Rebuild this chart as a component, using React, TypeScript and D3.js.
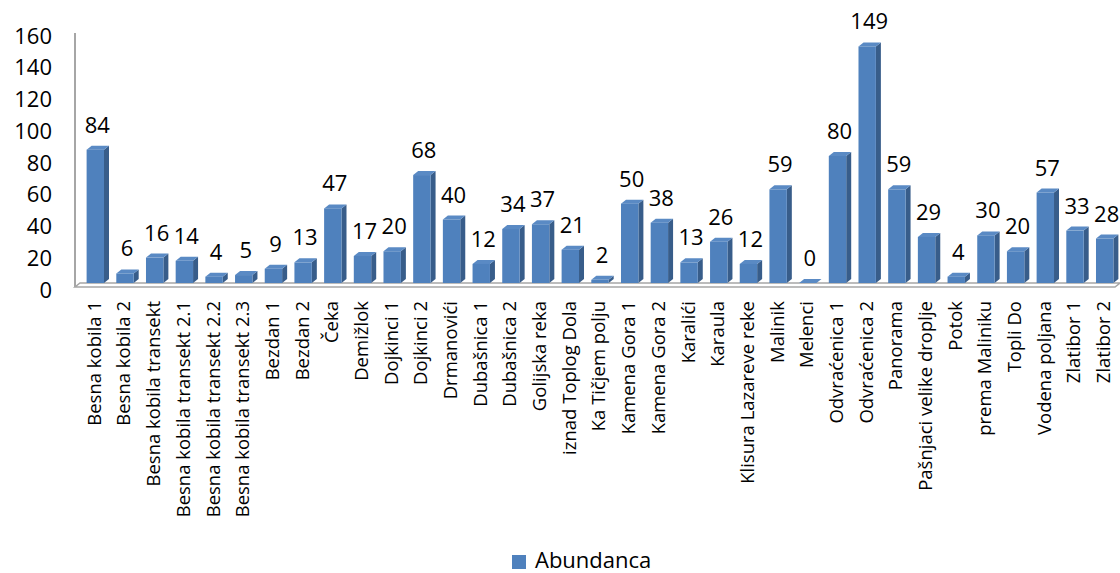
import React, { useEffect, useRef } from "react";
import { select, scaleBand, scaleLinear } from "d3";

// data
const categories: string[] = [
  "Besna kobila 1",
  "Besna kobila 2",
  "Besna kobila transekt",
  "Besna kobila transekt 2.1",
  "Besna kobila transekt 2.2",
  "Besna kobila transekt 2.3",
  "Bezdan 1",
  "Bezdan 2",
  "Čeka",
  "Demižlok",
  "Dojkinci 1",
  "Dojkinci 2",
  "Drmanovići",
  "Dubašnica 1",
  "Dubašnica 2",
  "Golijska reka",
  "iznad Toplog Dola",
  "Ka Tičjem polju",
  "Kamena Gora 1",
  "Kamena Gora 2",
  "Karalići",
  "Karaula",
  "Klisura Lazareve reke",
  "Malinik",
  "Melenci",
  "Odvraćenica 1",
  "Odvraćenica 2",
  "Panorama",
  "Pašnjaci velike droplje",
  "Potok",
  "prema Maliniku",
  "Topli Do",
  "Vodena poljana",
  "Zlatibor 1",
  "Zlatibor 2"
];
const abundance: number[] = [
  84, 6, 16, 14, 4, 5, 9, 13, 47, 17, 20, 68, 40, 12, 34, 37, 21, 2, 50, 38,
  13, 26, 12, 59, 0, 80, 149, 59, 29, 4, 30, 20, 57, 33, 28
];
const yTicks: number[] = [0, 20, 40, 60, 80, 100, 120, 140, 160];
const seriesName = "Abundanca";

const FONT = "'Open Sans', 'DejaVu Sans', sans-serif";
const FRONT = "#4F81BD";
const SIDE = "#385D8A";
const TOP = "#5A8AC4";

/**
 * 3D-looking column chart, Excel style
 */
function ColumnChart3D() {
  const svgRef = useRef<SVGSVGElement>(null);

  useEffect(() => {
    const width = 1120;
    const height = 573;
    const base = 283; // front bottom of the bars
    const dx = 5; // depth offset
    const dy = 4;

    const svg = select(svgRef.current)
      .attr("width", width)
      .attr("height", height);
    svg.selectAll("*").remove();

    // scales
    const xScale = scaleBand<string>()
      .domain(categories)
      .range([78, 1122])
      .paddingInner(0.414)
      .paddingOuter(0.29);
    const yScale = scaleLinear().domain([0, 160]).range([base, 29]);

    // floor + wall
    svg
      .append("polygon")
      .attr("points", `75,287 1115,287 1120,283 80,283`)
      .attr("fill", "#ffffff")
      .attr("stroke", "#A6A6A6")
      .attr("stroke-width", 1.5);
    svg
      .append("line")
      .attr("x1", 75)
      .attr("x2", 75)
      .attr("y1", yScale(160) + dy)
      .attr("y2", 287)
      .attr("stroke", "#A6A6A6")
      .attr("stroke-width", 2);

    // y tick labels
    svg
      .selectAll(".ytick")
      .data(yTicks)
      .join("text")
      .attr("class", "ytick")
      .attr("x", 52)
      .attr("y", d => yScale(d) + 7)
      .attr("dy", "0.35em")
      .attr("text-anchor", "end")
      .attr("font-family", FONT)
      .attr("font-size", 22)
      .attr("fill", "#000")
      .text(d => d);

    const rows = categories.map((c, i) => ({ key: c, value: abundance[i] }));

    // bars
    const bar = svg
      .selectAll(".bar")
      .data(rows)
      .join("g")
      .attr("class", "bar");
    const w = xScale.bandwidth();

    bar
      .append("polygon")
      .attr("fill", SIDE)
      .attr("points", d => {
        const x = xScale(d.key)! + w;
        const y = yScale(d.value);
        return `${x},${y} ${x + dx},${y - dy} ${x + dx},${base - dy} ${x},${base}`;
      });
    bar
      .append("polygon")
      .attr("fill", TOP)
      .attr("points", d => {
        const x = xScale(d.key)!;
        const y = yScale(d.value);
        return `${x},${y} ${x + dx},${y - dy} ${x + w + dx},${y - dy} ${x + w},${y}`;
      });
    bar
      .append("rect")
      .attr("fill", FRONT)
      .attr("x", d => xScale(d.key)!)
      .attr("y", d => yScale(d.value))
      .attr("width", w)
      .attr("height", d => base - yScale(d.value));

    // value labels
    svg
      .selectAll(".vlabel")
      .data(rows)
      .join("text")
      .attr("class", "vlabel")
      .attr("x", d => xScale(d.key)! + w / 2 + 2)
      .attr("y", d => yScale(d.value) - 17)
      .attr("text-anchor", "middle")
      .attr("font-family", FONT)
      .attr("font-size", 22)
      .attr("fill", "#000")
      .text(d => d.value);

    // category labels
    svg
      .selectAll(".xlabel")
      .data(categories)
      .join("text")
      .attr("class", "xlabel")
      .attr(
        "transform",
        d => `translate(${xScale(d)! + w / 2 - 1},301) rotate(-90)`
      )
      .attr("dy", "0.35em")
      .attr("text-anchor", "end")
      .attr("font-family", FONT)
      .attr("font-size", 18.5)
      .attr("fill", "#000")
      .text(d => d);

    // legend
    svg
      .append("rect")
      .attr("x", 512)
      .attr("y", 555)
      .attr("width", 14)
      .attr("height", 14)
      .attr("fill", FRONT);
    svg
      .append("text")
      .attr("x", 535)
      .attr("y", 568)
      .attr("font-family", FONT)
      .attr("font-size", 22)
      .attr("fill", "#000")
      .text(seriesName);
  }, []);

  return (
    <div style={{ position: "absolute", left: 0, top: 0 }}>
      <svg ref={svgRef} style={{ display: "block" }}></svg>
    </div>
  );
}

export default function App() {
  return <ColumnChart3D />;
}
